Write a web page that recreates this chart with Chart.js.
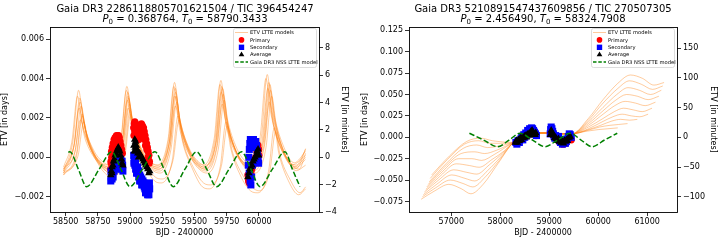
<!DOCTYPE html>
<html><head><meta charset="utf-8">
<script src="https://cdn.jsdelivr.net/npm/chart.js@4.4.1/dist/chart.umd.min.js"></script>
<style>
body{margin:0;background:#fff;}
#wrap{position:relative;width:720px;height:240px;font-family:'DejaVu Sans',sans-serif;color:#000;}
.panel{position:absolute;top:0;width:360px;height:240px;}
.panel canvas{position:absolute;left:0;top:0;}
.tt{position:absolute;white-space:nowrap;font-size:10px;line-height:11px;transform:translateX(-50%);}
.tt sub{font-size:7px;vertical-align:-2px;line-height:0;}
</style></head><body>
<div id="wrap">
 <div class="panel" style="left:0">
  <canvas id="c1" width="360" height="240"></canvas>
  <div class="tt" style="left:185px;top:2.5px">Gaia DR3 2286118805701621504 / TIC 396454247</div>
  <div class="tt" style="left:185px;top:13px"><i>P</i><sub>0</sub> = 0.368764, <i>T</i><sub>0</sub> = 58790.3433</div>
 </div>
 <div class="panel" style="left:360px">
  <canvas id="c2" width="360" height="240"></canvas>
  <div class="tt" style="left:183px;top:2.5px">Gaia DR3 5210891547437609856 / TIC 270507305</div>
  <div class="tt" style="left:183px;top:13px"><i>P</i><sub>0</sub> = 2.456490, <i>T</i><sub>0</sub> = 58324.7908</div>
 </div>
</div>
<script>
// ---------------- LEFT PANEL DATA ----------------
const leftXTicks = [58500,58750,59000,59250,59500,59750,60000];
const leftDayTicks = [-0.002,0,0.002,0.004,0.006];
const leftMinTicks = [-4,-2,0,2,4,6,8];
const leftXRange = [58378,60467];
const leftYRange = [-0.002775,0.00661];

const leftModels = [
 [[58483,-0.0007],[58555,0.00079],[58600,0.0034],[58635,0.00192],[58710,0.00036],[58790,-0.00038],[58845,-0.0005],[58930,0.00085],[58975,0.0036],[59010,0.00204],[59085,0.0004],[59165,-0.00038],[59215,-0.0005],[59300,0.00092],[59345,0.0038],[59380,0.00217],[59455,0.00045],[59535,-0.00037],[59575,-0.0005],[59660,0.00095],[59705,0.0039],[59740,0.00223],[59815,0.00047],[59895,-0.00037],[59935,-0.0005],[60020,0.00105],[60065,0.0042],[60100,0.00241],[60175,0.00053],[60255,-0.00036],[60300,-0.0005],[60363,0.00044]],
 [[58483,-0.0008],[58565,0.00059],[58610,0.0030],[58645,0.00163],[58720,0.00019],[58800,-0.00049],[58852,-0.0006],[58937,0.00069],[58982,0.0033],[59017,0.00182],[59092,0.00026],[59172,-0.00048],[59220,-0.0006],[59305,0.00075],[59350,0.0035],[59385,0.00194],[59460,0.0003],[59540,-0.00048],[59582,-0.0006],[59667,0.00079],[59712,0.0036],[59747,0.0020],[59822,0.00032],[59902,-0.00047],[59948,-0.0006],[60033,0.00085],[60078,0.0038],[60113,0.00213],[60188,0.00037],[60268,-0.00047],[60313,-0.0006],[60363,0.0002]],
 [[58483,-0.0006],[58575,0.00039],[58620,0.0026],[58655,0.00135],[58730,0.00003],[58810,-0.0006],[58858,-0.0007],[58943,0.00052],[58988,0.0030],[59023,0.00159],[59098,0.00011],[59178,-0.00059],[59226,-0.0007],[59311,0.00055],[59356,0.0031],[59391,0.00166],[59466,0.00014],[59546,-0.00059],[59592,-0.0007],[59677,0.00059],[59722,0.0032],[59757,0.00172],[59832,0.00016],[59912,-0.00058],[59960,-0.0007],[60045,0.00065],[60090,0.0034],[60125,0.00184],[60200,0.0002],[60280,-0.00058],[60363,-0.0001]],
 [[58483,-0.0005],[58547,0.00076],[58592,0.0031],[58627,0.00177],[58702,0.00037],[58782,-0.0003],[58842,-0.0004],[58927,0.00085],[58972,0.0034],[59007,0.00196],[59082,0.00044],[59162,-0.00029],[59210,-0.0004],[59295,0.00092],[59340,0.0036],[59375,0.00208],[59450,0.00048],[59530,-0.00028],[59568,-0.0004],[59653,0.00095],[59698,0.0037],[59733,0.00214],[59808,0.0005],[59888,-0.00028],[59925,-0.0004],[60010,0.00105],[60055,0.0040],[60090,0.00233],[60165,0.00057],[60245,-0.00027],[60290,-0.0004],[60363,0.0004]],
 [[58483,-0.0009],[58583,0.00019],[58628,0.0022],[58663,0.00106],[58738,-0.00014],[58818,-0.00071],[58865,-0.0008],[58950,0.00036],[58995,0.0027],[59030,0.00137],[59105,-0.00003],[59185,-0.0007],[59232,-0.0008],[59317,0.00039],[59362,0.0028],[59397,0.00143],[59472,-0.00001],[59552,-0.00069],[59600,-0.0008],[59685,0.00042],[59730,0.0029],[59765,0.00149],[59840,0.00001],[59920,-0.00069],[59970,-0.0008],[60055,0.00049],[60100,0.0031],[60135,0.00162],[60210,0.00006],[60290,-0.00068],[60363,-0.0004]],
 [[58483,-0.0007],[58560,0.0005],[58605,0.0025],[58640,0.00136],[58715,0.00016],[58795,-0.00041],[58850,-0.0005],[58935,0.00062],[58980,0.0029],[59015,0.00161],[59090,0.00025],[59170,-0.0004],[59217,-0.0005],[59302,0.00069],[59347,0.0031],[59382,0.00173],[59457,0.00029],[59537,-0.00039],[59578,-0.0005],[59663,0.00075],[59708,0.0033],[59743,0.00186],[59818,0.00034],[59898,-0.00039],[59940,-0.0005],[60025,0.00082],[60070,0.0035],[60105,0.00198],[60180,0.00038],[60260,-0.00038],[60363,0.0001]],
 [[58483,-0.0008],[58570,0.00023],[58615,0.0019],[58650,0.00095],[58725,-0.00005],[58805,-0.00053],[58856,-0.0006],[58941,0.00042],[58986,0.0025],[59021,0.00132],[59096,0.00008],[59176,-0.00051],[59222,-0.0006],[59307,0.00046],[59352,0.0026],[59387,0.00138],[59462,0.0001],[59542,-0.0005],[59586,-0.0006],[59671,0.00049],[59716,0.0027],[59751,0.00145],[59826,0.00013],[59906,-0.0005],[59952,-0.0006],[60037,0.00052],[60082,0.0028],[60117,0.00151],[60192,0.00015],[60272,-0.0005],[60363,0.0000]],
 [[58483,-0.0009],[58585,0.00009],[58630,0.0021],[58665,0.00096],[58740,-0.0002],[58820,-0.0009],[58870,-0.0010],[58955,0.00012],[59000,0.0024],[59035,0.00111],[59110,-0.0003],[59190,-0.0012],[59242,-0.0013],[59327,-0.00018],[59372,0.0021],[59407,0.0008],[59482,-0.00055],[59562,-0.0015],[59615,-0.0016],[59700,-0.00048],[59745,0.0018],[59780,0.0005],[59855,-0.0009],[59935,-0.0017],[59990,-0.0018],[60075,-0.00071],[60120,0.0015],[60155,0.0002],[60230,-0.0012],[60310,-0.0019],[60363,-0.0016]],
 [[58483,-0.0008],[58595,0.00006],[58640,0.0018],[58675,0.00081],[58750,-0.0002],[58830,-0.0008],[58875,-0.0009],[58960,0.00012],[59005,0.0022],[59040,0.0010],[59115,-0.00025],[59195,-0.0010],[59250,-0.0011],[59335,-0.0001],[59380,0.0019],[59415,0.0007],[59490,-0.0005],[59570,-0.0013],[59625,-0.0014],[59710,-0.0004],[59755,0.0016],[59790,0.0004],[59865,-0.0008],[59945,-0.0015],[60000,-0.0017],[60085,-0.0007],[60130,0.0013],[60165,0.0001],[60240,-0.0011],[60320,-0.0018],[60363,-0.0015]],
 [[58483,-0.0006],[58567,0.00066],[58612,0.0028],[58647,0.00158],[58722,0.0003],[58802,-0.0003],[58854,-0.0004],[58939,0.00076],[58984,0.0031],[59019,0.00177],[59094,0.00037],[59174,-0.0003],[59222,-0.0004],[59307,0.00082],[59352,0.0033],[59387,0.00189],[59462,0.00041],[59542,-0.00029],[59588,-0.0004],[59673,0.00089],[59718,0.0035],[59753,0.00202],[59828,0.00046],[59908,-0.00028],[59955,-0.0004],[60040,0.00095],[60085,0.0037],[60120,0.00214],[60195,0.0005],[60275,-0.00028],[60363,0.0003]]
];

const leftPrimary = [
 [58850,-0.0006],[58853,-0.0003],[58857,0.0000],[58862,0.0002],[58868,0.0004],[58874,0.0006],[58880,0.0007],[58886,0.0008],[58892,0.0009],[58898,0.0010],[58904,0.0011],[58910,0.0011],[58916,0.0010],[58922,0.0008],[58928,0.0006],[58934,0.0004],[58940,0.0002],
 [58852,-0.0002],[58856,0.0003],[58862,0.0005],[58868,0.0007],[58876,0.0009],[58884,0.0010],[58894,0.0011],[58900,0.0008],[58910,0.0007],[58920,0.0005],
 [59028,0.0015],[59032,0.0017],[59037,0.0018],[59043,0.0017],[59049,0.0015],[59055,0.0013],[59061,0.0011],[59067,0.0009],[59072,0.0014],[59080,0.0016],[59088,0.0017],[59096,0.0016],[59104,0.0015],[59110,0.0013],[59116,0.0011],[59122,0.0009],[59128,0.0007],[59134,0.0005],[59140,0.0003],[59146,0.0001],[59150,-0.0002],
 [59030,0.0011],[59036,0.0013],[59042,0.0012],[59048,0.0010],[59056,0.0009],[59064,0.0012],[59076,0.0011],[59086,0.0013],[59094,0.0012],[59102,0.0011],[59112,0.0009],[59120,0.0006],[59130,0.0004],[59140,0.0000],[59148,-0.0003],
 [59915,-0.0009],[59920,-0.0012],[59926,-0.0013],[59932,-0.0011],[59938,-0.0008],[59945,-0.0006],[59955,-0.0004],[59965,-0.0002],[59975,0.0000],[59985,0.0003],[59992,0.0006],[59998,0.0004],[60000,0.0001]
];
const leftSecondary = [
 [58850,-0.0012],[58854,-0.0010],[58858,-0.0008],[58864,-0.0009],[58870,-0.0006],[58876,-0.0007],[58882,-0.0005],[58888,-0.0004],[58894,-0.0003],[58900,-0.0002],[58906,-0.0001],[58912,0.0000],[58918,-0.0001],[58924,-0.0003],[58930,-0.0005],[58936,-0.0006],[58942,-0.0004],
 [58852,-0.0007],[58860,-0.0011],[58868,-0.0010],[58878,-0.0004],[58890,-0.0006],[58902,-0.0004],[58914,-0.0003],[58926,-0.0001],[58938,-0.0002],[58944,-0.0007],
 [59028,0.0001],[59032,-0.0002],[59037,-0.0004],[59043,-0.0006],[59049,-0.0005],[59055,-0.0008],[59061,-0.0007],[59067,-0.0010],[59075,-0.0009],[59083,-0.0012],[59091,-0.0011],[59099,-0.0014],[59107,-0.0013],[59115,-0.0016],[59123,-0.0015],[59131,-0.0018],[59139,-0.0017],[59146,-0.0019],[59152,-0.0016],
 [59030,-0.0003],[59036,-0.0001],[59042,-0.0003],[59050,-0.0008],[59058,-0.0005],[59066,-0.0007],[59074,-0.0012],[59082,-0.0010],[59090,-0.0014],[59100,-0.0012],[59110,-0.0015],[59120,-0.0018],[59128,-0.0016],[59136,-0.0019],[59144,-0.0016],[59150,-0.0013],
 [59918,-0.0004],[59922,0.0000],[59926,0.0004],[59930,0.0007],[59934,0.0009],[59940,0.0008],[59946,0.0006],[59952,0.0008],[59958,0.0009],[59964,0.0007],[59970,0.0005],[59976,0.0008],[59982,0.0006],[59988,0.0003],[59994,0.0000],[59998,-0.0003],[59925,-0.0008],[59932,-0.0012],[59938,-0.0014],[59944,-0.0010],[59950,-0.0004]
];
const leftAverage = [
 [58850,-0.0009],[58855,-0.0007],[58860,-0.0005],[58866,-0.0004],[58872,-0.0002],[58878,-0.0001],[58884,0.0001],[58890,0.0002],[58896,0.0003],[58902,0.0004],[58908,0.0005],[58914,0.0004],[58920,0.0003],[58926,0.0001],[58932,-0.0001],[58938,-0.0003],[58944,-0.0004],[58858,-0.0008],
 [59030,0.0006],[59036,0.0009],[59042,0.0008],[59048,0.0006],[59054,0.0004],[59060,0.0002],[59066,0.0000],[59074,0.0002],[59082,0.0001],[59090,0.0000],[59098,-0.0001],[59106,-0.0002],[59114,-0.0003],[59122,-0.0004],[59130,-0.0005],[59138,-0.0006],[59146,-0.0008],[59152,-0.0007],
 [59032,0.0003],[59040,0.0005],[59046,0.0003],
 [59915,-0.0010],[59922,-0.0008],[59930,-0.0006],[59938,-0.0005],[59946,-0.0004],[59954,-0.0002],[59962,-0.0001],[59970,0.0000],[59978,0.0001],[59986,0.0003],[59994,0.0004],[59998,0.0001]
];
const leftNss = [
 [58520,0.00026],[58533,0.00028],[58598,-0.0006],[58663,-0.00149],[58760,-0.0006],[58857,0.00028],[58928,-0.0006],[58999,-0.00149],[59096,-0.0006],[59193,0.00028],[59264,-0.0006],[59335,-0.00149],[59426,-0.0006],[59517,0.00028],[59595,-0.0006],[59672,-0.00149],[59769,-0.0006],[59866,0.00028],[59938,-0.0006],[60009,-0.00149],[60105,-0.0006],[60202,0.00028],[60260,-0.0006],[60319,-0.00149]
];

// ---------------- RIGHT PANEL DATA ----------------
const rightXTicks = [57000,58000,59000,60000,61000];
const rightDayTicks = [-0.075,-0.05,-0.025,0,0.025,0.05,0.075,0.1,0.125];
const rightMinTicks = [-100,-50,0,50,100,150];
const rightXRange = [56136,61610];
const rightYRange = [-0.0873,0.1289];

const rightCore = [[58270,-0.006],[58500,0.000],[58750,0.005],[59000,0.005],[59250,0.004],[59460,0.004]];
const rightModelsLeftArm = [
 [[56384,-0.0724],[56650,-0.063],[56950,-0.055],[57200,-0.060],[57400,-0.066],[57650,-0.055],[57950,-0.031]],
 [[56410,-0.0695],[56680,-0.059],[56980,-0.050],[57240,-0.054],[57440,-0.058],[57700,-0.046],[57980,-0.027]],
 [[56430,-0.067],[56700,-0.055],[57010,-0.044],[57280,-0.048],[57480,-0.051],[57740,-0.039],[58010,-0.023]],
 [[56450,-0.064],[56740,-0.050],[57050,-0.038],[57320,-0.041],[57520,-0.043],[57780,-0.032],[58040,-0.019]],
 [[56480,-0.061],[56780,-0.045],[57100,-0.031],[57370,-0.033],[57570,-0.035],[57830,-0.026],[58080,-0.016]],
 [[56500,-0.058],[56820,-0.040],[57150,-0.025],[57420,-0.025],[57620,-0.027],[57880,-0.020]],
 [[56530,-0.055],[56860,-0.035],[57200,-0.019],[57480,-0.017],[57680,-0.019],[57930,-0.015]],
 [[56550,-0.052],[56890,-0.031],[57240,-0.013],[57520,-0.009],[57740,-0.012],[57990,-0.010]],
 [[56570,-0.048],[56920,-0.026],[57270,-0.008],[57560,-0.004],[57790,-0.007],[58040,-0.007]],
 [[56600,-0.044],[56960,-0.022],[57310,-0.005],[57600,-0.001],[57840,-0.004]]
];
const rightModelsRightArm = [
 [[59800,0.022],[60100,0.044],[60400,0.063],[60660,0.0728],[60900,0.069],[61140,0.061],[61346,0.064]],
 [[59800,0.020],[60100,0.040],[60400,0.057],[60640,0.066],[60880,0.062],[61110,0.056],[61320,0.060]],
 [[59800,0.018],[60100,0.035],[60380,0.050],[60610,0.058],[60840,0.055],[61070,0.050],[61290,0.055]],
 [[59800,0.016],[60100,0.031],[60350,0.043],[60580,0.050],[60800,0.048],[61020,0.044],[61240,0.048]],
 [[59800,0.014],[60100,0.027],[60340,0.037],[60550,0.042],[60760,0.040],[60960,0.037],[61170,0.041]],
 [[59800,0.012],[60100,0.022],[60330,0.030],[60520,0.034],[60720,0.032],[60900,0.030],[61100,0.034]],
 [[59800,0.010],[60080,0.018],[60300,0.024],[60490,0.027],[60680,0.025],[60850,0.024],[61020,0.027]],
 [[59800,0.009],[60050,0.014],[60280,0.019],[60460,0.021],[60640,0.020],[60800,0.021]],
 [[59780,0.008],[60030,0.012],[60240,0.014],[60420,0.015],[60600,0.016]],
 [[59750,0.007],[60000,0.009],[60200,0.010],[60400,0.011]]
];
const rightPrimary = [
 [58320,-0.007],[58400,-0.004],[58480,0.000],[58560,0.004],[58640,0.007],[58700,0.004],[58730,0.002],
 [59040,0.006],[59100,0.000],[59200,-0.005],[59280,-0.008],[59340,-0.007],[59420,-0.002],[59450,-0.003]
];
const rightSecondary = [
 [58320,-0.006],[58340,-0.008],[58360,-0.004],[58390,-0.006],[58420,-0.002],[58440,0.001],[58460,-0.003],[58480,0.003],[58500,0.000],[58520,0.005],[58540,0.002],[58560,0.008],[58580,0.006],[58600,0.010],[58620,0.009],[58640,0.011],[58660,0.010],[58680,0.008],[58700,0.006],[58720,0.004],[58740,0.002],
 [59020,0.004],[59030,0.009],[59040,0.012],[59055,0.010],[59070,0.007],[59085,0.004],[59100,0.001],[59115,-0.001],[59130,0.002],[59150,0.000],[59170,-0.002],[59190,0.001],[59210,-0.004],[59230,-0.006],[59250,-0.003],[59270,-0.008],[59290,-0.006],[59310,-0.004],[59330,-0.007],[59350,-0.005],[59370,-0.002],[59390,0.001],[59410,0.004],[59430,0.003],[59450,0.000]
];
const rightAverage = [
 [58310,-0.006],[58330,-0.004],[58350,-0.006],[58370,-0.003],[58390,-0.004],[58410,-0.001],[58430,-0.003],[58450,0.000],[58470,-0.001],[58490,0.001],[58510,0.002],[58530,0.000],[58550,0.003],[58570,0.004],[58590,0.002],[58610,0.005],[58630,0.007],[58650,0.008],[58670,0.006],[58690,0.004],[58710,0.003],[58725,0.005],
 [59025,0.003],[59040,0.008],[59055,0.006],[59070,0.004],[59090,0.002],[59110,-0.001],[59130,0.000],[59150,-0.002],[59170,-0.004],[59190,-0.002],[59210,-0.005],[59230,-0.004],[59250,-0.006],[59270,-0.005],[59290,-0.007],[59310,-0.004],[59330,-0.005],[59350,-0.003],[59370,-0.004],[59390,-0.001],[59410,0.000],[59430,0.001]
];
const rightNss = [
 [57370,0.0047],[57660,-0.0032],[57950,-0.011],[58180,-0.0032],[58405,0.0047],[58660,-0.0032],[58915,-0.011],[59170,-0.0032],[59430,0.0047],[59650,-0.0032],[59875,-0.011],[60130,-0.0032],[60390,0.0047]
];
const rightModels = rightModelsLeftArm.map((arm, i) => arm.concat(rightCore, rightModelsRightArm[i]));

const legendLabels = ['ETV LTTE models','Primary','Secondary','Average','Gaia DR3 NSS LTTE model'];
const DAY_TO_MIN = 1440;

// ---------------- DRAWING ----------------
const FONT = {family:'DejaVu Sans', size:8};
const minus = s => s.replace('-', '\u2212');

const framePlugin = {
  id:'frameLegend',
  afterDatasetsDraw(chart) {
    const {ctx, chartArea:a} = chart;
    ctx.save();
    ctx.strokeStyle = '#000'; ctx.lineWidth = 0.9;
    const L = Math.round(a.left)+0.5, T = Math.round(a.top)+0.5, R = Math.round(a.right)+0.5, B = Math.round(a.bottom)+0.5;
    ctx.strokeRect(L, T, R-L, B-T);
    const w = 83, h = 39, x0 = Math.round(a.right) - 3 - w, y0 = Math.round(a.top) + 1;
    ctx.beginPath(); ctx.roundRect(x0+0.5, y0+0.5, w, h, 2);
    ctx.fillStyle = 'rgba(255,255,255,0.85)'; ctx.fill();
    ctx.strokeStyle = '#d4d4d4'; ctx.lineWidth = 0.8; ctx.stroke();
    const rows = [
      {kind:'line', color:'rgba(255,127,14,0.45)', w:0.9},
      {kind:'pt', style:'circle', color:'red', r:2.8},
      {kind:'pt', style:'rect', color:'blue', r:3.8},
      {kind:'pt', style:'triangle', color:'#000', r:3.3},
      {kind:'line', color:'green', w:1.5, dash:[3.5,1.8]}
    ];
    ctx.font = '5.2px "DejaVu Sans"'; ctx.textBaseline = 'middle'; ctx.textAlign = 'left';
    rows.forEach((r, i) => {
      const y = y0 + 4.5 + i*7.4, hx = x0 + 2, hw = 13, cx = hx + hw/2;
      if (r.kind === 'line') {
        ctx.beginPath(); ctx.setLineDash(r.dash || []);
        ctx.strokeStyle = r.color; ctx.lineWidth = r.w;
        ctx.moveTo(hx, y); ctx.lineTo(hx+hw, y); ctx.stroke(); ctx.setLineDash([]);
      } else {
        ctx.fillStyle = r.color;
        Chart.helpers.drawPoint(ctx, {pointStyle:r.style, radius:r.r, rotation:0, borderWidth:0}, cx, y);
      }
      ctx.fillStyle = '#000';
      ctx.fillText(legendLabels[i], x0 + 17, y + 0.3);
    });
    ctx.restore();
  }
};

function build(id, o) {
  const ds = [];
  o.models.forEach(m => ds.push({data:m, showLine:true, borderColor:'rgba(255,127,14,0.5)', borderWidth:0.8, pointRadius:0, cubicInterpolationMode:'monotone', order:5, yAxisID:'y'}));
  ds.push({data:o.primary, showLine:false, backgroundColor:'red', pointStyle:'circle', pointRadius:3.6, pointBorderWidth:0, order:4, yAxisID:'y'});
  ds.push({data:o.secondary, showLine:false, backgroundColor:'blue', pointStyle:'rect', pointRadius:5, pointBorderWidth:0, order:3, yAxisID:'y'});
  ds.push({data:o.average, showLine:false, backgroundColor:'#000', pointStyle:'triangle', pointRadius:4.4, pointBorderWidth:0, order:2, yAxisID:'y'});
  ds.push({data:o.nss, showLine:true, borderColor:'green', borderWidth:1.5, borderDash:[5.5,2.4], pointRadius:0, cubicInterpolationMode:'monotone', order:1, yAxisID:'y'});
  const tickStyle = {font:FONT, color:'#000'};
  const grid = {display:true, drawOnChartArea:false, drawTicks:true, tickLength:4, color:'#000', lineWidth:0.8};
  return new Chart(document.getElementById(id), {
    type:'scatter',
    data:{datasets:ds},
    plugins:[framePlugin],
    options:{
      responsive:false, animation:false, events:[],
      layout:{padding:{left:0, right:o.padRight, top:27, bottom:2}},
      plugins:{legend:{display:false}, tooltip:{enabled:false}},
      scales:{
        x:{type:'linear', position:'bottom', min:o.xRange[0], max:o.xRange[1],
           afterBuildTicks:s => { s.ticks = o.xTicks.map(v => ({value:v})); },
           afterFit:s => { s.height = 26; },
           ticks:{...tickStyle, autoSkip:false, maxRotation:0, padding:1, callback:v => String(v)},
           grid, border:{display:false},
           title:{display:true, text:'BJD - 2400000', font:FONT, color:'#000', padding:0}},
        y:{type:'linear', position:'left', min:o.yRange[0], max:o.yRange[1],
           afterBuildTicks:s => { s.ticks = o.dayTicks.map(v => ({value:v})); },
           afterFit:s => { s.width = o.leftW; },
           ticks:{...tickStyle, padding:2, callback:v => minus(v.toFixed(3))},
           grid, border:{display:false},
           title:{display:true, text:'ETV [in days]', font:FONT, color:'#000', padding:{top:0.5,bottom:0}}},
        y2:{type:'linear', position:'right', min:o.yRange[0]*DAY_TO_MIN, max:o.yRange[1]*DAY_TO_MIN,
           afterBuildTicks:s => { s.ticks = o.minTicks.map(v => ({value:v})); },
           afterFit:s => { s.width = o.rightW; },
           ticks:{...tickStyle, padding:2, callback:v => minus(String(v))},
           grid, border:{display:false},
           title:{display:true, text:'ETV [in minutes]', font:FONT, color:'#000', padding:{top:0,bottom:0}}}
      }
    }
  });
}

build('c1', {models:leftModels, primary:leftPrimary, secondary:leftSecondary, average:leftAverage, nss:leftNss,
  xTicks:leftXTicks, dayTicks:leftDayTicks, minTicks:leftMinTicks, xRange:leftXRange, yRange:leftYRange,
  leftW:50, rightW:30, padRight:11});
build('c2', {models:rightModels, primary:rightPrimary, secondary:rightSecondary, average:rightAverage, nss:rightNss,
  xTicks:rightXTicks, dayTicks:rightDayTicks, minTicks:rightMinTicks, xRange:rightXRange, yRange:rightYRange,
  leftW:49, rightW:41, padRight:2});
</script>
</body></html>
